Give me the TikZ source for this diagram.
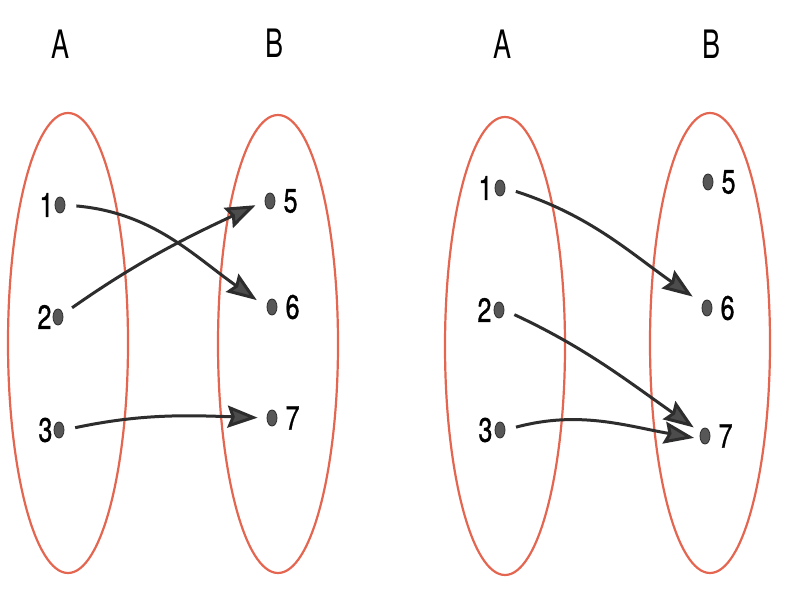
\documentclass[tikz,border=0pt]{standalone}
\usepackage{fontspec}
\usepackage{graphicx}
\setsansfont{TeX Gyre Heros}
\newfontfamily\digitfont{TeX Gyre Heros}[FakeBold=1.2]
\usetikzlibrary{arrows.meta,positioning,shapes.geometric}
\definecolor{setred}{RGB}{228,102,80}
\definecolor{inkgray}{RGB}{45,45,45}
\newcommand{\tallnum}[1]{\scalebox{1}[1.35]{#1}}
\newcommand{\tallset}[1]{\scalebox{1}[1.45]{#1}}
\tikzset{headtip/.tip={Stealth[length=30pt, width=22pt, inset=4pt, fill=inkgray!85]}}
\begin{document}
\begin{tikzpicture}[x=1pt, y=1pt,
  setline/.style={setred, line width=2.2pt},
  pt/.style={ellipse, draw=inkgray, line width=0.8pt, fill=inkgray!80, inner sep=0pt, minimum width=10pt, minimum height=16pt},
  num/.style={font=\digitfont\fontsize{25}{25}\selectfont, inner sep=0pt},
  setname/.style={font=\sffamily\fontsize{27}{27}\selectfont, inner sep=0pt},
  maparrow/.style={inkgray, line width=3pt, -headtip, shorten <=11pt}]
  \useasboundingbox[fill=white] (0,0) rectangle (800,600);

  % First mapping: one to one
  \begin{scope}
    \node[setname] (setA) at (61,556) {\tallset{A}};
    \node[setname] (setB) at (275,557) {\tallset{B}};
    \draw[setline] (68,257) ellipse [x radius=60, y radius=230];
    \draw[setline] (278,256) ellipse [x radius=60, y radius=229];

    \node[pt] (a1) at (60,395) {};
    \node[pt] (a2) at (58,283) {};
    \node[pt] (a3) at (59,170) {};
    \node[pt] (b5) at (270,399) {};
    \node[pt] (b6) at (272,293) {};
    \node[pt] (b7) at (272,182) {};
    \node[num, left=1pt of a1] (la1) {\tallnum{1}};
    \node[num, left=1pt of a2] (la2) {\tallnum{2}};
    \node[num, left=1pt of a3] (la3) {\tallnum{3}};
    \node[num, right=8pt of b5] (lb5) {\tallnum{5}};
    \node[num, right=8pt of b6] (lb6) {\tallnum{6}};
    \node[num, right=8pt of b7] (lb7) {\tallnum{7}};

    \draw[maparrow, shorten >=12pt] (a1.east) to[out=-5, in=145] (b6.west);
    \draw[maparrow, shorten >=10pt] (a2.30) to[out=35, in=-155] (b5.west);
    \draw[maparrow, shorten >=9pt] (a3.east) to[out=12, in=178] (b7.west);
  \end{scope}

  % Second mapping: many to one
  \begin{scope}[shift={(440,0)}]
    \node[setname] (setA) at (62,556) {\tallset{A}};
    \node[setname] (setB) at (271,556) {\tallset{B}};
    \draw[setline] (65,254) ellipse [x radius=60, y radius=229];
    \draw[setline] (270,257) ellipse [x radius=60, y radius=230];

    \node[pt] (a1) at (60,412) {};
    \node[pt] (a2) at (59,290) {};
    \node[pt] (a3) at (60,170) {};
    \node[pt] (b5) at (268,418) {};
    \node[pt] (b6) at (267,292) {};
    \node[pt] (b7) at (265,164) {};
    \node[num, left=2pt of a1] (la1) {\tallnum{1}};
    \node[num, left=2pt of a2] (la2) {\tallnum{2}};
    \node[num, left=2pt of a3] (la3) {\tallnum{3}};
    \node[num, right=8pt of b5] (lb5) {\tallnum{5}};
    \node[num, right=8pt of b6] (lb6) {\tallnum{6}};
    \node[num, right=8pt of b7] (lb7) {\tallnum{7}};

    \draw[maparrow, shorten >=12pt] (a1.east) to[out=-18, in=145] (b6.135);
    \draw[maparrow, shorten >=8pt] (a2.east) to[out=-25, in=145] (b7.140);
    \draw[maparrow, shorten >=6pt] (a3.east) to[out=15, in=170] (b7.210);
  \end{scope}
\end{tikzpicture}
\end{document}
